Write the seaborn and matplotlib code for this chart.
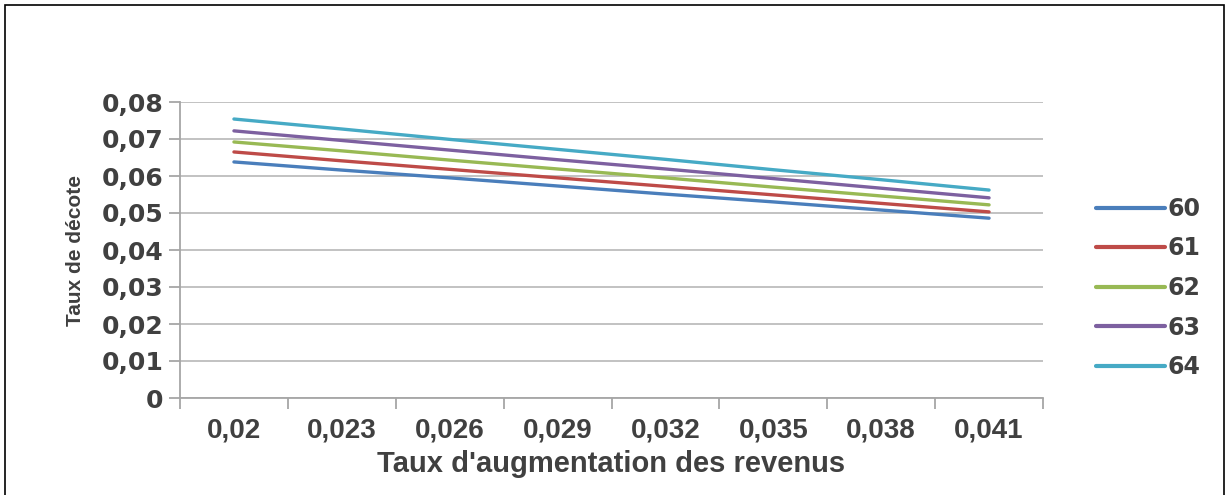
import matplotlib
matplotlib.use("Agg")
import matplotlib.pyplot as plt
from matplotlib.patches import Rectangle
from matplotlib.ticker import FixedLocator, FuncFormatter
import pandas as pd
import seaborn as sns

# Revenue growth rates (x categories)
taux_labels = ["0,02", "0,023", "0,026", "0,029", "0,032", "0,035", "0,038", "0,041"]

# Discount rate per retirement age
ages = ["60", "61", "62", "63", "64"]
decote_60 = [0.0638, 0.0616, 0.0595, 0.0573, 0.0551, 0.0530, 0.0508, 0.0486]
decote_61 = [0.0665, 0.0641, 0.0618, 0.0595, 0.0572, 0.0549, 0.0526, 0.0503]
decote_62 = [0.0692, 0.0668, 0.0643, 0.0619, 0.0595, 0.0570, 0.0546, 0.0522]
decote_63 = [0.0722, 0.0696, 0.0670, 0.0644, 0.0619, 0.0593, 0.0567, 0.0541]
decote_64 = [0.0754, 0.0727, 0.0699, 0.0672, 0.0645, 0.0617, 0.0590, 0.0562]

colors = ["#4A7EBB", "#BE4B48", "#98B954", "#7D60A0", "#46AAC5"]

series = [decote_60, decote_61, decote_62, decote_63, decote_64]
rows = []
for age, vals in zip(ages, series):
    for lab, v in zip(taux_labels, vals):
        rows.append({"taux": lab, "decote": v, "age": age})
df = pd.DataFrame(rows)

sns.set_theme(style="white")
plt.rcParams["font.family"] = ["DejaVu Sans"]
narrow = ["Liberation Sans Narrow", "Liberation Sans"]

fig = plt.figure(figsize=(12.3, 4.95), dpi=100)
ax = fig.add_axes([180 / 1230, 97 / 495, 863 / 1230, 296 / 495])

sns.lineplot(data=df, x="taux", y="decote", hue="age", hue_order=ages,
             palette=colors, linewidth=2.4, ax=ax, sort=False)

ax.set_ylim(0, 0.08)
ax.set_xlim(-0.5, len(taux_labels) - 0.5)
ax.set_yticks([i / 100 for i in range(9)])
ax.yaxis.set_major_formatter(FuncFormatter(
    lambda v, p: "0" if abs(v) < 1e-9 else f"{v:.2f}".replace(".", ",")))
ax.grid(axis="y", color="#BDBDBD", linewidth=1.3)
ax.set_axisbelow(True)

for s in ["top", "right"]:
    ax.spines[s].set_visible(False)
for s in ["left", "bottom"]:
    ax.spines[s].set_color("#A6A6A6")
    ax.spines[s].set_linewidth(1.3)

# Category tick marks sit between categories; labels are centred
ax.xaxis.set_minor_locator(FixedLocator([i - 0.5 for i in range(len(taux_labels) + 1)]))
ax.tick_params(axis="x", which="minor", length=8, width=1.3, color="#A6A6A6", bottom=True)
ax.tick_params(axis="x", which="major", length=0, pad=14)
ax.tick_params(axis="y", which="major", length=8, width=1.3, color="#A6A6A6", left=True, pad=4)

for t in ax.get_xticklabels():
    t.set_fontfamily(narrow)
    t.set_fontweight("bold")
    t.set_fontsize(20)
    t.set_color("#404040")
for t in ax.get_yticklabels():
    t.set_fontweight("heavy")
    t.set_fontsize(18)
    t.set_color("#404040")

ax.set_xlabel("Taux d'augmentation des revenus", fontsize=21, fontweight="bold",
              color="#404040", labelpad=5, family=narrow)
ax.set_ylabel("Taux de décote", fontsize=15, fontweight="bold", color="#404040",
              labelpad=12, family=narrow)

leg = ax.legend(loc="center left", bbox_to_anchor=(1075 / 1230, 207 / 495),
                bbox_transform=fig.transFigure, frameon=False,
                handlelength=2.9, handletextpad=0.1, labelspacing=0.66,
                prop={"weight": "heavy", "size": 17})
for line in leg.get_lines():
    line.set_linewidth(3)
for t in leg.get_texts():
    t.set_color("#404040")

# Outer frame
fig.patches.append(Rectangle((5 / 1230, -0.02), 1219 / 1230, 1.0 - 5 / 495 + 0.02,
                             transform=fig.transFigure, fill=False,
                             edgecolor="black", linewidth=1.2))

fig.savefig("out.png", dpi=100)
